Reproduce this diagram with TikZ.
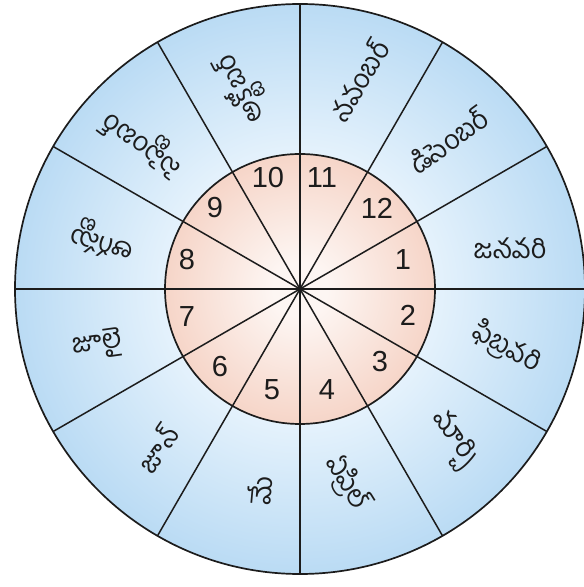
\documentclass[tikz,border=0pt]{standalone}
\usepackage{fontspec}
\setmainfont{Liberation Sans}
\newfontfamily\telugu[Script=Telugu]{Hind Guntur}
\usetikzlibrary{calc}
\definecolor{blueIn}{RGB}{229,242,252}
\definecolor{blueOut}{RGB}{186,219,244}
\definecolor{pinkIn}{RGB}{253,246,243}
\definecolor{pinkOut}{RGB}{246,213,200}
\definecolor{ink}{RGB}{28,28,28}
\pgfdeclareradialshading{bluering}{\pgfpoint{0bp}{0bp}}{color(0bp)=(blueIn); color(11.8bp)=(blueIn); color(25bp)=(blueOut); color(50bp)=(blueOut)}
\pgfdeclareradialshading{pinkdisk}{\pgfpoint{0bp}{0bp}}{color(0bp)=(pinkIn); color(5bp)=(pinkIn); color(25bp)=(pinkOut); color(50bp)=(pinkOut)}
\begin{document}
\begin{tikzpicture}[x=1pt,y=1pt,
  rim/.style={draw=ink, line width=1.7pt},
  spoke/.style={draw=ink, line width=1.5pt},
  num/.style={font=\fontsize{29}{32}\selectfont, text=ink, inner sep=0pt},
  month/.style={font=\telugu\fontsize{27}{30}\selectfont, text=ink, inner sep=0pt}]
\useasboundingbox (0,0) rectangle (584,587);
\fill[white] (0,0) rectangle (584,587);
\coordinate (c) at (300,298);
\shade[shading=bluering] (c) circle (285);
\shade[shading=pinkdisk] (c) circle (135);
\foreach \a in {0,30,...,150}
  \draw[spoke] ($(c)+(\a:285)$) -- ($(c)+(\a+180:285)$);
\draw[rim] (c) circle (285);
\draw[rim] (c) circle (135);
\fill[ink] (c) circle (3);
% numbers
\node[num] (n1)  at (403,327) {1};
\node[num] (n12) at (377,379) {12};
\node[num] (n11) at (322,409) {11};
\node[num] (n10) at (268,409) {10};
\node[num] (n9)  at (215,379) {9};
\node[num] (n8)  at (187,327) {8};
\node[num] (n7)  at (187,270) {7};
\node[num] (n6)  at (220,220) {6};
\node[num] (n5)  at (272,197) {5};
\node[num] (n4)  at (327,197) {4};
\node[num] (n3)  at (380,225) {3};
\node[num] (n2)  at (408,272) {2};
% months
\node[month] (m1)  at (510,339) {జనవరి};
\node[month, rotate=-30] (m2)  at (507,239) {ఫిబ్రవరి};
\node[month, rotate=-55] (m3)  at (453,147) {మార్చి};
\node[month, rotate=-58] (m4)  at (347,104) {ఏప్రిల్};
\node[month, rotate=85] (m5)  at (260,97) {మే};
\node[month, rotate=55] (m6)  at (157,139) {జూన్};
\node[month, rotate=8] (m7)  at (97,242) {జూలై};
\node[month, rotate=165] (m8)  at (103,347) {ఆగస్టు};
\node[month, rotate=143] (m9)  at (143,444) {సెప్టెంబర్};
\node[month, rotate=117] (m10) at (242,499) {అక్టోబర్};
\node[month, rotate=59] (m11) at (358,507) {నవంబర్};
\node[month, rotate=36] (m12) at (448,447) {డిసెంబర్};
\end{tikzpicture}
\end{document}
